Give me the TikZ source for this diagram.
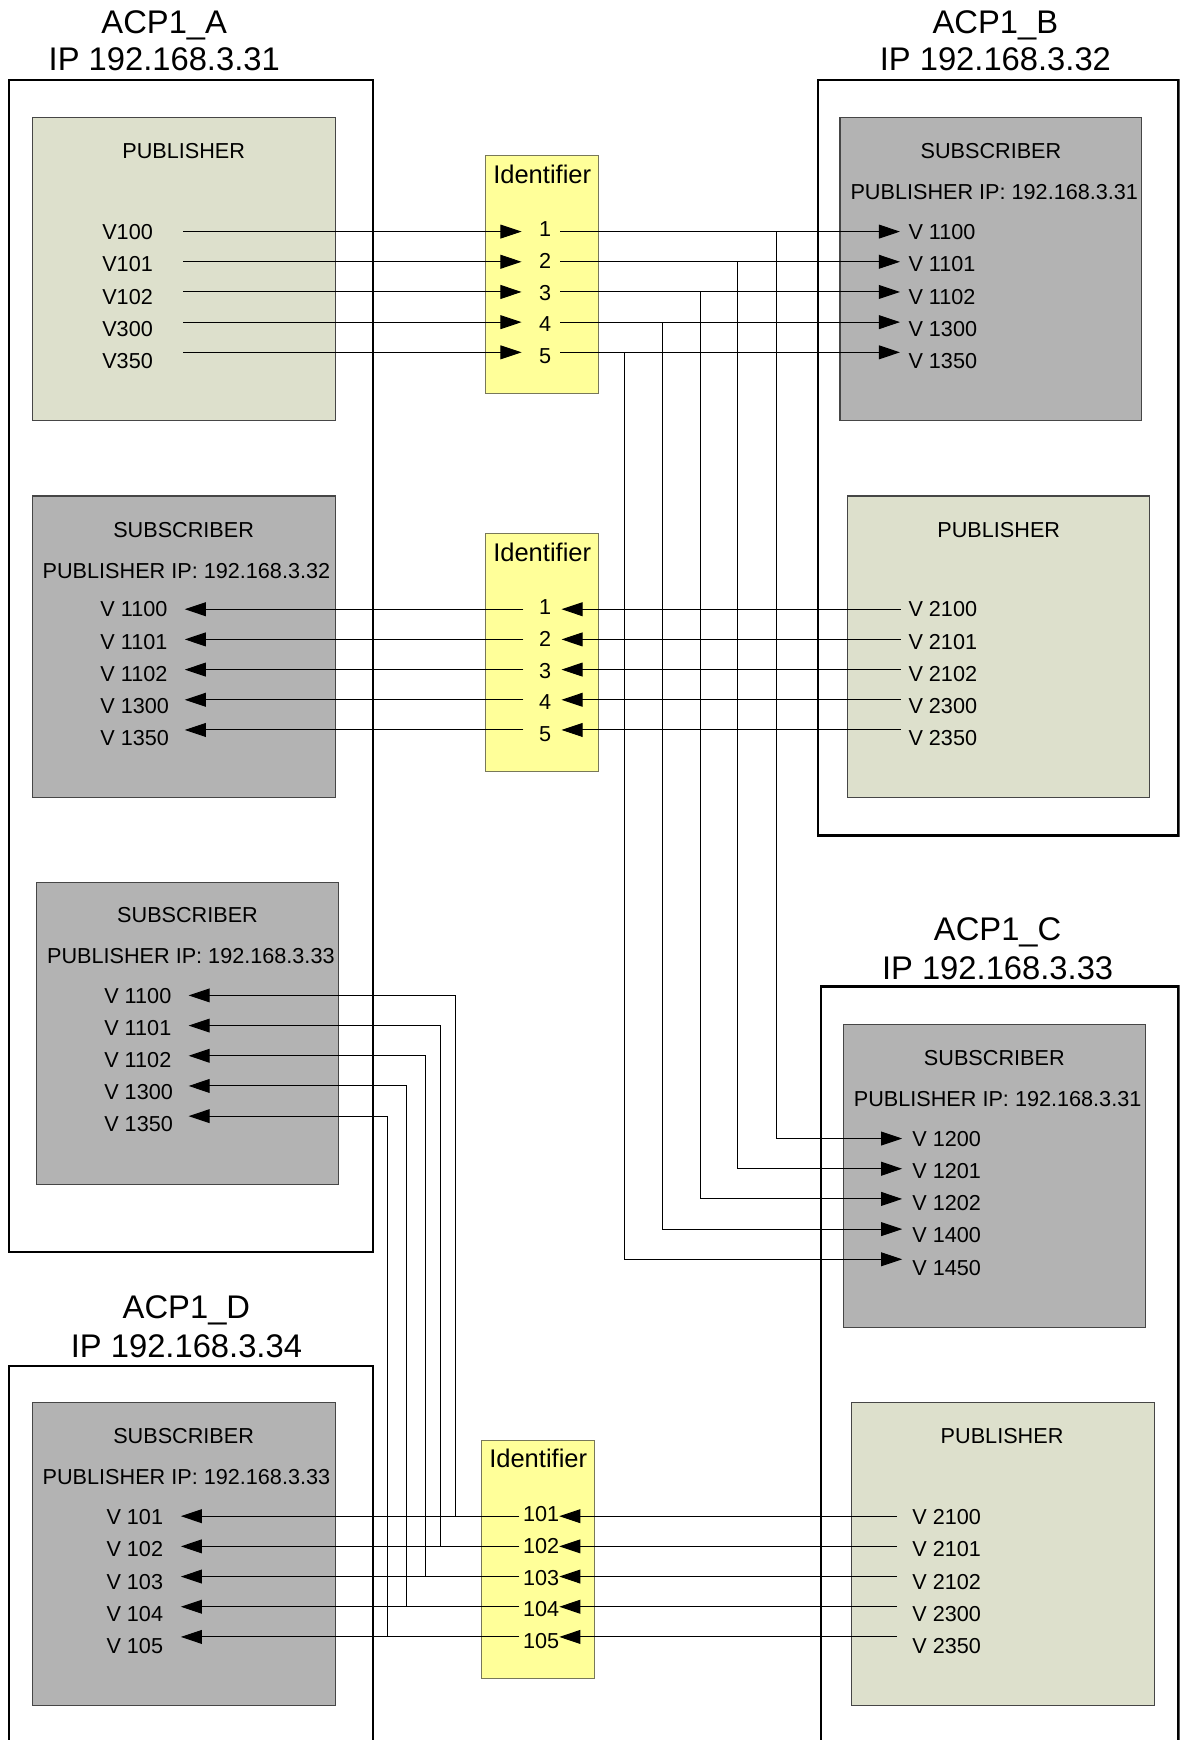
\documentclass[tikz,border=0pt]{standalone}
\usepackage{fontspec}
\setmainfont{Liberation Sans}
\usetikzlibrary{arrows.meta}

\definecolor{pubfill}{RGB}{221,224,204}
\definecolor{subfill}{RGB}{179,179,179}
\definecolor{idfill}{RGB}{255,255,153}
\definecolor{idline}{RGB}{120,120,90}
\definecolor{boxline}{RGB}{70,70,70}

% rectangle node from its corners: style, x1, y1, x2, y2, name
\newcommand\areabox[6]{%
  \node[#1,minimum width={(#4)-(#2)},minimum height={(#5)-(#3)}] (#6)
    at ({((#2)+(#4))/2},{((#3)+(#5))/2}) {};}

\begin{document}
\begin{tikzpicture}[x=1pt,y=-1pt,
  host/.style={draw=black,line width=2.2pt},
  pubbox/.style={draw=boxline,line width=1pt,fill=pubfill},
  subbox/.style={draw=boxline,line width=1pt,fill=subfill},
  idbox/.style={draw=idline,line width=1pt,fill=idfill},
  lbl/.style={inner sep=0pt,text height=14pt,text depth=0pt,
              font=\fontsize{19.5}{20}\selectfont},
  hosttitle/.style={inner sep=0pt,text height=21.1pt,text depth=0pt,
              font=\fontsize{29.5}{30}\selectfont},
  idtitle/.style={inner sep=0pt,text height=16.5pt,text depth=0pt,
              font=\fontsize{23}{24}\selectfont},
  wire/.style={draw=black,line width=0.9pt},
  wirearrow/.style={wire,-{Triangle[length=19pt,width=12.5pt]}},
]
\useasboundingbox (0,0) rectangle (1063,1568);
\begin{scope}
\clip (0,0) rectangle (1063,1568);

% ---------- hosts ----------
\areabox{host}{8}{72}{336}{1128}{hostA}
\areabox{host}{737}{72}{1062}{753}{hostB}
\areabox{host}{740}{889}{1062}{1620}{hostC}
\areabox{host}{8}{1231}{336}{1620}{hostD}

\node[hosttitle] (tA1) at (148,20) {ACP1\_A};
\node[hosttitle] (tA2) at (148,53) {IP 192.168.3.31};
\node[hosttitle] (tB1) at (897,20) {ACP1\_B};
\node[hosttitle] (tB2) at (897,53) {IP 192.168.3.32};
\node[hosttitle] (tC1) at (899,837) {ACP1\_C};
\node[hosttitle] (tC2) at (899,872) {IP 192.168.3.33};
\node[hosttitle] (tD1) at (168,1178) {ACP1\_D};
\node[hosttitle] (tD2) at (168,1213) {IP 192.168.3.34};

% ---------- publisher / subscriber blocks ----------
\areabox{pubbox}{29}{106}{302}{379}{pubA}
\areabox{subbox}{29}{447}{302}{719}{subA1}
\areabox{subbox}{33}{795}{305}{1067}{subA2}
\areabox{subbox}{757}{106}{1029}{379}{subB}
\areabox{pubbox}{764}{447}{1036}{719}{pubB}
\areabox{subbox}{760}{923}{1032}{1196}{subC}
\areabox{pubbox}{767}{1264}{1040}{1537}{pubC}
\areabox{subbox}{29}{1264}{302}{1537}{subD}

\areabox{idbox}{437.6}{140}{539.6}{355}{id1}
\areabox{idbox}{437.6}{481}{539.6}{695.5}{id2}
\areabox{idbox}{434.2}{1298}{536}{1512.6}{id3}

% headings
\node[lbl] (pubA-h) at (165.5,136) {PUBLISHER};
\node[lbl] (subA1-h) at (165.5,477) {SUBSCRIBER};
\node[lbl] (subA1-ip) at (168,514) {PUBLISHER IP: 192.168.3.32};
\node[lbl] (subA2-h) at (169,824) {SUBSCRIBER};
\node[lbl] (subA2-ip) at (172,861) {PUBLISHER IP: 192.168.3.33};
\node[lbl] (subB-h) at (893,136) {SUBSCRIBER};
\node[lbl] (subB-ip) at (896,173) {PUBLISHER IP: 192.168.3.31};
\node[lbl] (pubB-h) at (900,477) {PUBLISHER};
\node[lbl] (subC-h) at (896,953) {SUBSCRIBER};
\node[lbl] (subC-ip) at (899,990) {PUBLISHER IP: 192.168.3.31};
\node[lbl] (pubC-h) at (903,1294) {PUBLISHER};
\node[lbl] (subD-h) at (165.5,1294) {SUBSCRIBER};
\node[lbl] (subD-ip) at (168,1331) {PUBLISHER IP: 192.168.3.33};

\node[idtitle] (id1-h) at (488.6,157) {Identifier};
\node[idtitle] (id2-h) at (488.6,497.5) {Identifier};
\node[idtitle] (id3-h) at (485,1314) {Identifier};

% ---------- variable labels ----------
\foreach \k/\t in {0/V100,1/V101,2/V102,3/V300,4/V350}
  \node[lbl,anchor=west] (vA-\k) at (92,{209+29*\k}) {\t};
\foreach \k/\t in {0/V 1100,1/V 1101,2/V 1102,3/V 1300,4/V 1350}{
  \node[lbl,anchor=west] (vB-\k) at (818.5,{209+29*\k}) {\t};
  \node[lbl,anchor=west] (vA1-\k) at (90.3,{549+29*\k}) {\t};
  \node[lbl,anchor=west] (vA2-\k) at (93.8,{897+29*\k}) {\t};
}
\foreach \k/\t in {0/V 2100,1/V 2101,2/V 2102,3/V 2300,4/V 2350}{
  \node[lbl,anchor=west] (vPB-\k) at (818.5,{549+29*\k}) {\t};
  \node[lbl,anchor=west] (vPC-\k) at (822,{1367+29*\k}) {\t};
}
\foreach \k/\t in {0/V 1200,1/V 1201,2/V 1202,3/V 1400,4/V 1450}
  \node[lbl,anchor=west] (vC-\k) at (822,{1026+29*\k}) {\t};
\foreach \k/\t in {0/V 101,1/V 102,2/V 103,3/V 104,4/V 105}
  \node[lbl,anchor=west] (vD-\k) at (95.8,{1367+29*\k}) {\t};

% identifier numbers
\foreach \k in {0,...,4}{
  \pgfmathtruncatemacro\n{\k+1}
  \node[lbl] (n1-\k) at (491.3,{206+28.7*\k}) {\n};
  \node[lbl] (n2-\k) at (491.3,{547+28.5*\k}) {\n};
  \pgfmathtruncatemacro\m{\k+101}
  \node[lbl] (n3-\k) at (487.6,{1364+28.7*\k}) {\m};
}

% ---------- connectors: ACP1_A publisher -> ACP1_B and ACP1_C ----------
\foreach \k/\xj in {0/700,1/665,2/631,3/597,4/563}{
  \coordinate (pA-\k) at (165,{208.7+27.2*\k});
  \coordinate (i1L-\k) at (470,{208.7+27.2*\k});
  \coordinate (i1R-\k) at (505,{208.7+27.2*\k});
  \coordinate (sB-\k) at (811,{208.7+27.2*\k});
  \coordinate (jB-\k) at (\xj,{208.7+27.2*\k});
  \coordinate (sC-\k) at (813,{1026+27.2*\k});
  \draw[wirearrow] (pA-\k) -- (i1L-\k);
  \draw[wirearrow] (i1R-\k) -- (sB-\k);
  \draw[wirearrow] (jB-\k) |- (sC-\k);
}

% ---------- connectors: ACP1_B publisher -> ACP1_A ----------
\foreach \k in {0,...,4}{
  \coordinate (pB-\k) at (811.5,{549+27.2*\k});
  \coordinate (i2R-\k) at (506,{549+27.2*\k});
  \coordinate (i2L-\k) at (471.7,{549+27.2*\k});
  \coordinate (sA1-\k) at (166.5,{549+27.2*\k});
  \draw[wirearrow] (pB-\k) -- (i2R-\k);
  \draw[wirearrow] (i2L-\k) -- (sA1-\k);
}

% ---------- connectors: ACP1_C publisher -> ACP1_D and ACP1_A ----------
\foreach \k/\xv in {0/410.3,1/396.5,2/383.4,3/366,4/349.2}{
  \coordinate (pC-\k) at (808.5,{1366.3+27.2*\k});
  \coordinate (i3R-\k) at (504,{1366.3+27.2*\k});
  \coordinate (i3L-\k) at (468,{1366.3+27.2*\k});
  \coordinate (sD-\k) at (163,{1366.3+27.2*\k});
  \coordinate (jD-\k) at (\xv,{1366.3+27.2*\k});
  \coordinate (sA2-\k) at (170,{897+27.2*\k});
  \draw[wirearrow] (pC-\k) -- (i3R-\k);
  \draw[wirearrow] (i3L-\k) -- (sD-\k);
  \draw[wirearrow] (jD-\k) |- (sA2-\k);
}
\end{scope}
\end{tikzpicture}
\end{document}
